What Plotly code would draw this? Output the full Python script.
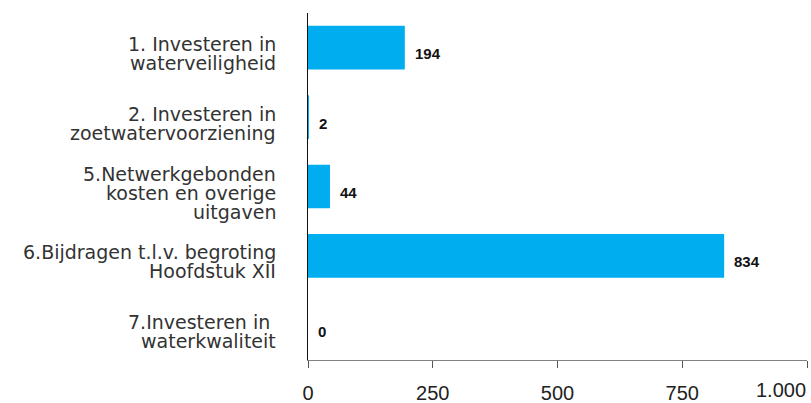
import plotly.graph_objects as go

categories = [
    "1. Investeren in<br>waterveiligheid",
    "2. Investeren in<br>zoetwatervoorziening",
    "5.Netwerkgebonden<br>kosten en overige<br>uitgaven",
    "6.Bijdragen t.l.v. begroting<br>Hoofdstuk XII",
    "7.Investeren in <br>waterkwaliteit",
]
values = [194, 2, 44, 834, 0]
value_labels = ["194", "2", "44", "834", "0"]
tick_vals = [0, 250, 500, 750, 1000]
tick_text = ["0", "250", "500", "750", "1.000"]

LABEL_FONT = "DejaVu Sans, Verdana, sans-serif"
NUM_FONT = "Liberation Sans, Arial, sans-serif"

fig = go.Figure()
fig.add_trace(go.Bar(
    y=categories, x=values, orientation="h",
    marker=dict(color="#00AEEF", line=dict(width=0)),
    width=0.63, hoverinfo="x+y",
))

# value labels
for c, v, t in zip(categories, values, value_labels):
    fig.add_annotation(
        x=v, y=c, text="<b>" + t + "</b>", showarrow=False,
        xanchor="left", yanchor="middle", xshift=8, yshift=-6,
        font=dict(family=NUM_FONT, size=15, color="#111111"),
    )

# category labels, one annotation per line to control line spacing
LINE_GAP = 19
for c in categories:
    lines = c.split("<br>")
    n = len(lines)
    for i, ln in enumerate(lines):
        off = 6 + (i - (n - 1) / 2) * LINE_GAP
        fig.add_annotation(
            x=0, xref="paper", y=c, yref="y", text=ln, showarrow=False,
            xanchor="right", yanchor="middle", xshift=-30, yshift=-off,
            font=dict(family=LABEL_FONT, size=19, color="#333333"),
        )

# last x tick label kept inside the page, right aligned
fig.add_annotation(
    x=tick_vals[-1], xref="x", y=0, yref="paper", text=tick_text[-1],
    showarrow=False, xanchor="right", yanchor="top", yshift=-17, xshift=1,
    font=dict(family=NUM_FONT, size=20, color="#222222"),
)

fig.update_layout(
    width=811, height=403,
    margin=dict(l=308, r=4, t=13, b=43, autoexpand=False),
    paper_bgcolor="white", plot_bgcolor="white",
    showlegend=False,
    font=dict(family=NUM_FONT, size=17, color="#333333"),
)
fig.update_xaxes(
    range=[0, 1000], tickvals=tick_vals,
    ticktext=tick_text[:-1] + [""],
    showgrid=False, zeroline=False,
    showline=True, linecolor="#808080", linewidth=1,
    ticks="outside", ticklen=7, tickcolor="#555555",
    ticklabelstandoff=8, automargin=False,
    tickfont=dict(family=NUM_FONT, size=20, color="#222222"),
)
fig.update_yaxes(
    categoryorder="array", categoryarray=categories[::-1],
    showgrid=False, zeroline=False,
    showline=True, linecolor="#111111", linewidth=1,
    ticks="", showticklabels=False, automargin=False,
)

fig.write_html(
    "out.html",
    config={"displayModeBar": False},
    post_script="document.body.style.margin='0';",
)
